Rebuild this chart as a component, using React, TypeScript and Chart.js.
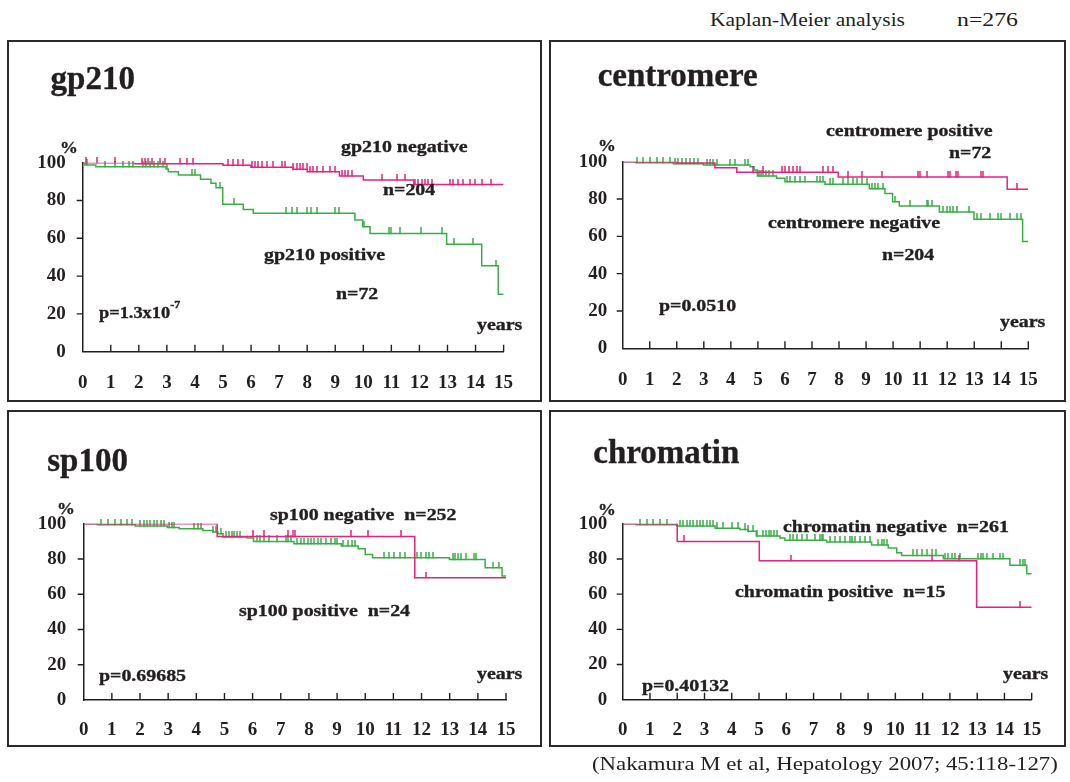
import React, { useEffect, useRef } from "react";
import { Chart, registerables } from "chart.js";

Chart.register(...registerables);

// ---------- axis ticks ----------
const yearTicks = [0, 1, 2, 3, 4, 5, 6, 7, 8, 9, 10, 11, 12, 13, 14, 15];
const percentTicks = [0, 20, 40, 60, 80, 100];

// ---------- gp210 ----------
const gp210NegTimes = [0, 1.86, 5.0, 6.0, 7.5, 8.0, 9.15, 10.0, 11.8, 15];
const gp210NegSurv = [100, 99.5, 98.6, 97.6, 96.5, 95.2, 93.0, 90.8, 88.4, 88.4];
const gp210NegCensor = [0.12, 0.5, 1.15, 2.1, 2.22, 2.34, 2.46, 2.75, 2.93, 3.47, 3.71, 3.94, 5.19, 5.37, 5.55, 5.72, 6.02, 6.14, 6.26, 6.38, 6.56, 6.79, 7.09, 7.21, 7.5, 7.63, 7.74, 7.86, 7.98, 8.1, 8.22, 8.34, 8.57, 8.81, 8.99, 9.23, 9.35, 9.47, 9.59, 10.66, 11.21, 11.49, 11.84, 11.96, 12.08, 12.2, 12.32, 12.44, 13.09, 13.21, 13.39, 13.56, 13.8, 13.98, 14.22, 14.54];
const gp210PosTimes = [0, 0.08, 0.47, 2.97, 3.05, 3.41, 4.2, 4.57, 4.75, 4.99, 5.72, 6.08, 9.7, 9.98, 10.24, 12.97, 14.22, 14.81, 15];
const gp210PosSurv = [100, 98.8, 97.9, 96.7, 95.2, 93.5, 91.2, 89.1, 86.8, 78.0, 75.3, 73.2, 69.7, 66.1, 62.6, 56.8, 45.5, 30.4, 30.4];
const gp210PosCensor = [0.14, 0.79, 1.15, 1.43, 1.66, 1.78, 2.16, 2.26, 2.4, 2.54, 2.69, 2.85, 3.02, 3.88, 4.0, 4.89, 5.39, 7.25, 7.45, 7.65, 7.98, 8.14, 8.36, 8.99, 9.15, 10.02, 10.93, 10.98, 11.31, 12.06, 12.82, 13.23, 13.9, 14.73];

// ---------- centromere ----------
const centPosTimes = [0, 2.0, 3.41, 4.22, 7.97, 14.22, 15];
const centPosSurv = [100, 99.3, 96.8, 94.3, 91.8, 85.2, 85.2];
const centPosCensor = [4.83, 5.2, 5.88, 6.0, 6.16, 6.31, 6.43, 6.56, 7.42, 7.6, 7.79, 8.34, 8.84, 9.58, 10.93, 11.0, 11.24, 12.04, 12.1, 12.33, 12.41, 13.24, 13.31, 14.57];
const centNegTimes = [0, 0.49, 1.87, 2.98, 4.71, 4.86, 4.98, 5.69, 6.0, 7.48, 9.12, 9.7, 9.98, 10.23, 11.71, 12.99, 14.79, 15];
const centNegSurv = [100, 99.5, 98.9, 98.2, 97.3, 95.5, 92.3, 91.1, 89.3, 87.9, 85.5, 83.0, 78.6, 76.3, 73.0, 69.1, 57.3, 57.3];
const centNegCensor = [0.52, 0.76, 1.0, 1.26, 1.5, 1.75, 1.93, 2.05, 2.2, 2.35, 2.5, 2.65, 2.8, 3.1, 3.23, 3.35, 3.48, 3.97, 4.15, 4.52, 4.65, 5.05, 5.13, 5.2, 5.3, 5.4, 5.55, 6.06, 6.18, 6.37, 6.56, 6.74, 7.17, 7.3, 7.42, 7.67, 7.79, 8.16, 8.34, 8.53, 8.65, 8.84, 9.02, 9.21, 9.33, 9.45, 9.64, 10.07, 10.62, 11.24, 11.3, 11.43, 11.83, 11.98, 12.1, 12.23, 12.38, 12.82, 13.11, 13.24, 13.58, 13.89, 13.98, 14.32, 14.57, 14.72];

// ---------- sp100 ----------
const sp100PosTimes = [0, 4.74, 11.76, 15];
const sp100PosSurv = [100, 92.8, 69.4, 69.4];
const sp100PosCensor = [6.03, 6.41, 7.25, 7.45, 7.51, 9.51, 10.09, 11.28, 12.15];
const sp100NegTimes = [0, 0.48, 1.83, 2.97, 3.39, 4.23, 4.59, 4.77, 4.95, 5.8, 6.03, 7.47, 9.15, 9.75, 10.0, 10.26, 12.99, 14.26, 14.86, 15];
const sp100NegSurv = [100, 99.4, 98.7, 97.9, 97.2, 96.2, 95.3, 94.3, 92.5, 91.9, 90.0, 88.7, 87.4, 85.8, 82.6, 80.8, 79.8, 75.1, 70.4, 70.4];
const sp100NegCensor = [0.62, 0.86, 1.1, 1.34, 1.53, 1.71, 2.0, 2.13, 2.25, 2.37, 2.49, 2.61, 2.73, 2.85, 3.03, 3.12, 3.21, 3.93, 4.05, 4.17, 4.59, 4.71, 4.89, 5.07, 5.16, 5.25, 5.33, 5.43, 5.55, 6.15, 6.27, 6.41, 6.57, 6.87, 7.17, 7.25, 7.35, 7.59, 7.71, 7.83, 7.95, 8.07, 8.19, 8.31, 8.43, 8.61, 8.79, 8.91, 9.01, 9.21, 9.39, 9.54, 9.63, 10.65, 10.83, 11.01, 11.25, 11.43, 11.85, 11.97, 12.15, 12.27, 12.39, 13.11, 13.2, 13.29, 13.41, 13.57, 13.86, 13.95, 14.55, 14.74];

// ---------- chromatin ----------
const chromPosTimes = [0, 2.0, 5.01, 12.98, 15];
const chromPosSurv = [100, 90, 79, 52.6, 52.6];
const chromPosCensor = [2.25, 6.16, 11.33, 12.35, 14.57];
const chromNegTimes = [0, 0.49, 1.98, 3.39, 4.3, 4.6, 4.9, 5.77, 5.95, 7.48, 9.13, 9.74, 10.05, 10.23, 11.76, 14.2, 14.82, 15];
const chromNegSurv = [100, 99.5, 98.7, 97.5, 96.8, 95.8, 93.0, 91.9, 90.7, 89.6, 88.0, 86.2, 83.6, 82.0, 80.2, 76.4, 71.6, 71.6];
const chromNegCensor = [0.64, 0.88, 1.12, 1.37, 1.61, 2.1, 2.22, 2.35, 2.47, 2.59, 2.71, 2.84, 2.96, 3.08, 3.2, 3.33, 3.45, 3.69, 4.0, 4.24, 4.49, 4.61, 4.79, 4.91, 5.16, 5.26, 5.35, 5.45, 5.55, 5.65, 6.14, 6.23, 6.38, 6.56, 6.75, 7.05, 7.24, 7.3, 7.36, 7.6, 7.79, 7.97, 8.15, 8.34, 8.4, 8.52, 8.7, 8.89, 9.07, 9.38, 9.5, 9.58, 9.68, 10.66, 10.78, 10.97, 11.15, 11.33, 11.49, 11.82, 11.94, 12.07, 12.19, 12.37, 13.04, 13.13, 13.23, 13.35, 13.59, 13.84, 13.94, 14.57, 14.67, 14.76];

// ---------- styling ----------
const FONT = "'Liberation Serif', 'Times New Roman', serif";
const INK = "#231f20";
const PINK = "#e9207d";
const GREEN = "#3aae45";

type Series = { times: number[]; surv: number[]; censor: number[] };
type PanelDef = {
  box: { x: number; y: number; w: number; h: number };
  plot: { l: number; r: number; t: number; b: number };
  yPad: number;
  xPad: number;
  pink: Series;
  green: Series;
};

const panels: PanelDef[] = [
  {
    box: { x: 8, y: 41, w: 533, h: 360 },
    plot: { l: 82.7, r: 503.6, t: 162.7, b: 351.7 },
    yPad: 17, xPad: 20,
    pink: { times: gp210NegTimes, surv: gp210NegSurv, censor: gp210NegCensor },
    green: { times: gp210PosTimes, surv: gp210PosSurv, censor: gp210PosCensor },
  },
  {
    box: { x: 550, y: 41, w: 515, h: 360 },
    plot: { l: 622.7, r: 1028.3, t: 161.7, b: 348.3 },
    yPad: 15.4, xPad: 20,
    pink: { times: centPosTimes, surv: centPosSurv, censor: centPosCensor },
    green: { times: centNegTimes, surv: centNegSurv, censor: centNegCensor },
  },
  {
    box: { x: 8, y: 410.5, w: 533, h: 335.5 },
    plot: { l: 83.7, r: 506, t: 523.3, b: 700 },
    yPad: 17.5, xPad: 18.5,
    pink: { times: sp100PosTimes, surv: sp100PosSurv, censor: sp100PosCensor },
    green: { times: sp100NegTimes, surv: sp100NegSurv, censor: sp100NegCensor },
  },
  {
    box: { x: 550, y: 410.5, w: 515, h: 335.5 },
    plot: { l: 622.7, r: 1031.7, t: 523.3, b: 699.7 },
    yPad: 15.4, xPad: 18.5,
    pink: { times: chromPosTimes, surv: chromPosSurv, censor: chromPosCensor },
    green: { times: chromNegTimes, surv: chromNegSurv, censor: chromNegCensor },
  },
];

function survAt(s: Series, t: number): number {
  let v = s.surv[0];
  for (let i = 0; i < s.times.length; i++) if (s.times[i] <= t) v = s.surv[i];
  return v;
}

function makeMark(color: string): HTMLCanvasElement {
  const c = document.createElement("canvas");
  c.width = 2;
  c.height = 12;
  const g = c.getContext("2d")!;
  g.fillStyle = color;
  g.fillRect(0.25, 0, 1.5, 6.5);
  return c;
}

const axisTicks = {
  id: "axisTicks",
  afterDraw(chart: any) {
    const { ctx, chartArea, scales } = chart;
    const x = scales.x;
    const y = scales.y;
    ctx.save();
    ctx.strokeStyle = INK;
    ctx.lineWidth = 1.4;
    ctx.beginPath();
    x.ticks.forEach((tk: any) => {
      if (tk.value === 0) return;
      const px = x.getPixelForValue(tk.value);
      ctx.moveTo(px, chartArea.bottom);
      ctx.lineTo(px, chartArea.bottom - 7);
    });
    y.ticks.forEach((tk: any) => {
      if (tk.value === 0 || tk.value === 100) return;
      const py = y.getPixelForValue(tk.value);
      ctx.moveTo(chartArea.left, py);
      ctx.lineTo(chartArea.left - 6, py);
    });
    ctx.stroke();
    ctx.restore();
  },
};

function KMPanel({ def }: { def: PanelDef }) {
  const ref = useRef<HTMLCanvasElement | null>(null);
  useEffect(() => {
    if (!ref.current) return;
    const { box, plot } = def;
    const pinkMark = makeMark(PINK);
    const greenMark = makeMark(GREEN);
    const curve = (s: Series, color: string) => ({
      data: s.times.map((t, i) => ({ x: t, y: s.surv[i] })),
      showLine: true,
      stepped: "before" as const,
      borderColor: color,
      borderWidth: 1.5,
      pointRadius: 0,
      fill: false,
    });
    const marks = (s: Series, img: HTMLCanvasElement) => ({
      data: s.censor.map((t) => ({ x: t, y: survAt(s, t) })),
      showLine: false,
      pointStyle: img,
      pointRadius: 3,
      clip: false as const,
    });
    const tickFont = { family: FONT, size: 19, weight: "bold" as const };
    const chart = new Chart(ref.current, {
      type: "scatter",
      data: {
        datasets: [
          marks(def.pink, pinkMark) as any,
          curve(def.pink, PINK),
          marks(def.green, greenMark) as any,
          curve(def.green, GREEN),
        ],
      },
      options: {
        animation: false,
        responsive: false,
        devicePixelRatio: 1,
        events: [],
        layout: {
          padding: {
            left: 0,
            top: plot.t - box.y,
            right: box.x + box.w - plot.r,
            bottom: 0,
          },
        },
        plugins: { legend: { display: false }, tooltip: { enabled: false } },
        scales: {
          x: {
            type: "linear",
            min: 0,
            max: 15,
            afterBuildTicks: (s: any) => {
              s.ticks = yearTicks.map((v) => ({ value: v }));
            },
            afterFit: (s: any) => {
              s.height = box.y + box.h - plot.b;
            },
            grid: { display: false, drawTicks: false },
            border: { display: true, color: INK, width: 1.6 },
            ticks: { font: tickFont, color: INK, padding: def.xPad, maxRotation: 0, autoSkip: false },
          },
          y: {
            type: "linear",
            min: 0,
            max: 100,
            afterBuildTicks: (s: any) => {
              s.ticks = percentTicks.map((v) => ({ value: v }));
            },
            afterFit: (s: any) => {
              s.width = plot.l - box.x;
            },
            grid: { display: false, drawTicks: false },
            border: { display: true, color: INK, width: 1.5 },
            ticks: { font: tickFont, color: INK, padding: def.yPad },
          },
        },
      },
      plugins: [axisTicks],
    });
    return () => chart.destroy();
  }, [def]);
  const { box } = def;
  return (
    <>
      <canvas
        ref={ref}
        width={box.w}
        height={box.h}
        style={{ position: "absolute", left: box.x, top: box.y, width: box.w, height: box.h }}
      />
      <div
        style={{
          position: "absolute",
          left: box.x - 1,
          top: box.y - 1,
          width: box.w + 2,
          height: box.h + 2,
          border: "2px solid #2a2a2a",
          boxSizing: "border-box",
          pointerEvents: "none",
        }}
      />
    </>
  );
}

function T({
  x,
  b,
  s,
  sx = 1,
  bold = true,
  children,
}: {
  x: number;
  b: number;
  s: number;
  sx?: number;
  bold?: boolean;
  children: React.ReactNode;
}) {
  return (
    <div
      style={{
        position: "absolute",
        left: x,
        top: b - 0.8375 * s,
        fontSize: s,
        lineHeight: `${s}px`,
        fontWeight: bold ? 700 : 400,
        fontFamily: FONT,
        color: INK,
        whiteSpace: "pre",
        transform: `scaleX(${sx})`,
        transformOrigin: "0 0",
        WebkitTextStroke: bold ? "0.35px #231f20" : "0px",
      }}
    >
      {children}
    </div>
  );
}

const A = 17; // annotation font size
const AS = 1.17; // annotation horizontal stretch

export default function App() {
  return (
    <div
      style={{
        position: "absolute",
        left: 0,
        top: 0,
        width: 1070,
        height: 782,
        background: "#ffffff",
        overflow: "hidden",
      }}
    >
      {panels.map((p, i) => (
        <KMPanel key={i} def={p} />
      ))}

      <T x={710} b={26} s={19} sx={1.13} bold={false}>Kaplan-Meier analysis</T>
      <T x={957} b={26} s={19} sx={1.25} bold={false}>n=276</T>
      <T x={592} b={770} s={19} sx={1.2} bold={false}>(Nakamura M et al, Hepatology 2007; 45:118-127)</T>

      {/* gp210 */}
      <T x={50.6} b={90} s={33}>gp210</T>
      <T x={60} b={153} s={A} sx={1.05}>%</T>
      <T x={340.6} b={152.7} s={A} sx={AS}>gp210 negative</T>
      <T x={382.9} b={195} s={A} sx={AS}>n=204</T>
      <T x={264.2} b={260} s={A} sx={AS}>gp210 positive</T>
      <T x={336.2} b={299.3} s={A} sx={AS}>n=72</T>
      <T x={98.6} b={318.3} s={A} sx={1.08}>
        p=1.3x10<span style={{ fontSize: 11, position: "relative", top: -10 }}>-7</span>
      </T>
      <T x={477.2} b={330} s={A} sx={AS}>years</T>

      {/* centromere */}
      <T x={597.7} b={86.7} s={33}>centromere</T>
      <T x={598.3} b={151.7} s={A} sx={1.05}>%</T>
      <T x={826} b={136.7} s={A} sx={AS}>centromere positive</T>
      <T x={949.3} b={158.3} s={A} sx={AS}>n=72</T>
      <T x={768.3} b={228.3} s={A} sx={AS}>centromere negative</T>
      <T x={881.7} b={260.7} s={A} sx={AS}>n=204</T>
      <T x={659.3} b={311.7} s={A} sx={AS}>p=0.0510</T>
      <T x={1000} b={327.3} s={A} sx={AS}>years</T>

      {/* sp100 */}
      <T x={47.2} b={471.7} s={33}>sp100</T>
      <T x={57.3} b={514.3} s={A} sx={1.05}>%</T>
      <T x={269.6} b={520} s={A} sx={AS}>sp100 negative  n=252</T>
      <T x={238.9} b={616.7} s={A} sx={AS}>sp100 positive  n=24</T>
      <T x={98.6} b={681} s={A} sx={AS}>p=0.69685</T>
      <T x={477.2} b={679} s={A} sx={AS}>years</T>

      {/* chromatin */}
      <T x={593.3} b={463.3} s={33}>chromatin</T>
      <T x={598.3} b={515} s={A} sx={1.05}>%</T>
      <T x={783.3} b={532.7} s={A} sx={AS}>chromatin negative  n=261</T>
      <T x={735} b={597.7} s={A} sx={AS}>chromatin positive  n=15</T>
      <T x={641.7} b={691} s={A} sx={AS}>p=0.40132</T>
      <T x={1003.3} b={679} s={A} sx={AS}>years</T>
    </div>
  );
}
